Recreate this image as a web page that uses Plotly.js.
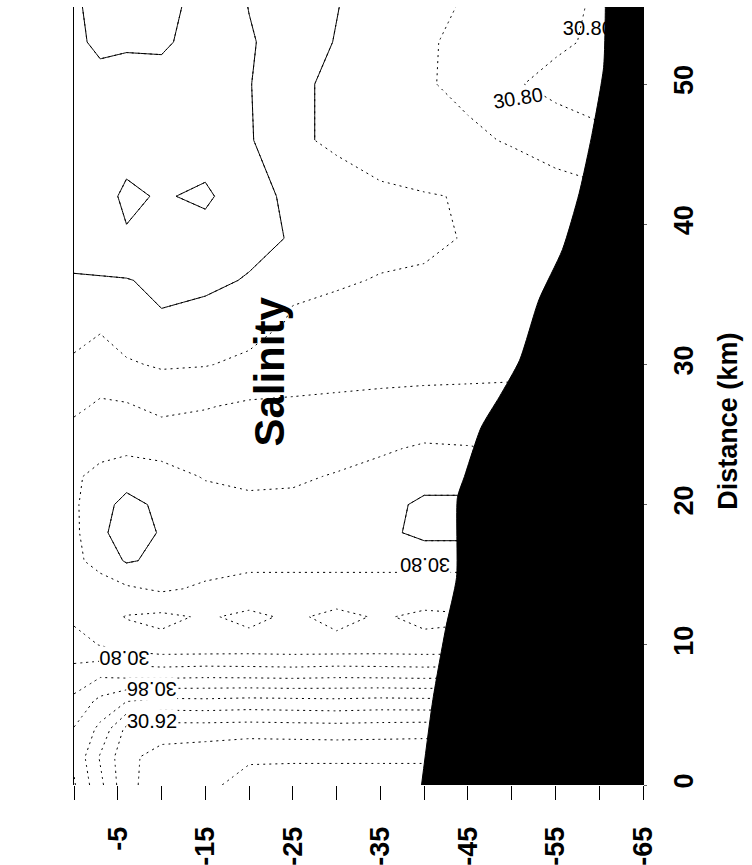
<!DOCTYPE html>
<html>
<head>
<meta charset="utf-8">
<script src="https://cdn.plot.ly/plotly-3.0.1.min.js"></script>
<style>
  html, body { margin: 0; padding: 0; background: #fff; }
  #chart { width: 752px; height: 865px; }
</style>
</head>
<body>
<div id="chart"></div>
<script>
// Cross-shelf salinity section: depth (m) runs left to right, distance offshore (km) runs upward.
const depthM = [0, -3, -6, -10, -15, -20, -25, -30, -35, -40, -45, -50, -55, -60, -65];
const distanceKm = [0, 2, 4, 6, 8, 10, 12, 14, 16, 18, 20, 22, 24, 27, 30, 33, 36, 39, 42, 46, 50, 53, 56];

// Salinity along each distance row, one value per depth in depthM
const row0km  = [30.858, 30.895, 30.935, 30.950, 30.955, 30.968, 30.970, 30.970, 30.970, 30.970, 30.970, 30.970, 30.970, 30.970, 30.970];
const row2km  = [30.864, 30.902, 30.935, 30.948, 30.952, 30.957, 30.957, 30.957, 30.957, 30.957, 30.957, 30.957, 30.957, 30.957, 30.957];
const row4km  = [30.861, 30.885, 30.925, 30.930, 30.930, 30.931, 30.930, 30.929, 30.930, 30.931, 30.930, 30.930, 30.930, 30.930, 30.930];
const row6km  = [30.845, 30.865, 30.879, 30.885, 30.884, 30.886, 30.885, 30.884, 30.886, 30.885, 30.885, 30.885, 30.885, 30.885, 30.885];
const row8km  = [30.825, 30.835, 30.831, 30.829, 30.831, 30.830, 30.829, 30.831, 30.830, 30.829, 30.830, 30.830, 30.830, 30.830, 30.830];
const row10km = [30.810, 30.799, 30.790, 30.785, 30.785, 30.786, 30.785, 30.785, 30.786, 30.785, 30.785, 30.785, 30.785, 30.785, 30.785];
const row12km = [30.795, 30.788, 30.779, 30.776, 30.782, 30.776, 30.783, 30.775, 30.782, 30.776, 30.778, 30.778, 30.778, 30.778, 30.778];
const row14km = [30.790, 30.790, 30.797, 30.803, 30.797, 30.793, 30.793, 30.793, 30.793, 30.793, 30.793, 30.793, 30.793, 30.793, 30.793];
const row16km = [30.795, 30.808, 30.822, 30.816, 30.808, 30.805, 30.805, 30.805, 30.805, 30.805, 30.805, 30.805, 30.805, 30.805, 30.805];
const row18km = [30.796, 30.815, 30.832, 30.818, 30.810, 30.806, 30.806, 30.808, 30.814, 30.826, 30.826, 30.822, 30.822, 30.822, 30.822];
const row20km = [30.797, 30.813, 30.826, 30.816, 30.806, 30.803, 30.803, 30.806, 30.813, 30.824, 30.824, 30.821, 30.821, 30.821, 30.821];
const row22km = [30.797, 30.806, 30.812, 30.806, 30.799, 30.797, 30.798, 30.801, 30.805, 30.812, 30.812, 30.811, 30.811, 30.811, 30.811];
const row24km = [30.792, 30.794, 30.796, 30.795, 30.792, 30.790, 30.792, 30.795, 30.798, 30.802, 30.801, 30.799, 30.799, 30.799, 30.799];
const row27km = [30.776, 30.783, 30.782, 30.775, 30.779, 30.783, 30.784, 30.785, 30.786, 30.787, 30.787, 30.787, 30.787, 30.787, 30.787];
const row30km = [30.763, 30.768, 30.762, 30.758, 30.759, 30.764, 30.767, 30.770, 30.772, 30.773, 30.774, 30.775, 30.775, 30.775, 30.775];
const row33km = [30.752, 30.757, 30.750, 30.742, 30.745, 30.752, 30.762, 30.766, 30.768, 30.769, 30.770, 30.771, 30.772, 30.772, 30.772];
const row36km = [30.741, 30.741, 30.741, 30.736, 30.737, 30.741, 30.757, 30.758, 30.761, 30.762, 30.764, 30.766, 30.768, 30.768, 30.768];
const row39km = [30.735, 30.732, 30.722, 30.721, 30.729, 30.736, 30.741, 30.750, 30.755, 30.757, 30.761, 30.764, 30.767, 30.770, 30.770];
const row42km = [30.733, 30.728, 30.716, 30.722, 30.716, 30.735, 30.743, 30.752, 30.757, 30.759, 30.761, 30.765, 30.770, 30.775, 30.775];
const row46km = [30.730, 30.726, 30.729, 30.731, 30.732, 30.738, 30.757, 30.763, 30.768, 30.772, 30.776, 30.782, 30.790, 30.795, 30.795];
const row50km = [30.728, 30.726, 30.726, 30.727, 30.733, 30.739, 30.756, 30.764, 30.770, 30.778, 30.785, 30.798, 30.805, 30.810, 30.810];
const row53km = [30.724, 30.716, 30.718, 30.717, 30.728, 30.738, 30.750, 30.761, 30.770, 30.778, 30.784, 30.790, 30.797, 30.803, 30.805];
const row56km = [30.722, 30.715, 30.714, 30.716, 30.724, 30.741, 30.754, 30.759, 30.770, 30.776, 30.781, 30.788, 30.795, 30.802, 30.805];

const salinity = [row0km, row2km, row4km, row6km, row8km, row10km, row12km, row14km, row16km,
  row18km, row20km, row22km, row24km, row27km, row30km, row33km, row36km, row39km, row42km,
  row46km, row50km, row53km, row56km];

// Isohaline levels: every 0.02 dotted; a few drawn as continuous lines over part of the section
const levelStart = 30.70, levelEnd = 30.98, levelStep = 0.02;
const solidLevelsLow = [30.72, 30.74];
const solidLevelOuter = 30.76;   // continuous beyond outerFromKm
const outerFromKm = 46;
const solidLevelCore = 30.82;    // continuous beyond coreFromKm
const coreFromKm = 14;

// Sea floor profile
const seabedDistKm = [0, 6.1, 11.3, 14.8, 20.5, 22.0, 25.5, 27.7, 30.3, 34.6, 38.2, 42.2, 46.5, 51.2, 55.4, 56];
const seabedDepthM = [-39.7, -41.0, -42.5, -43.7, -43.8, -44.6, -46.5, -48.6, -50.9, -53.1, -55.8, -57.7, -59.2, -60.5, -60.7, -60.7];

// Axis extents and ticks
const depthRange = [0, -65];
const distRange = [0, 55.5];
const depthTickVals = [0, -5, -10, -15, -20, -25, -30, -35, -40, -45, -50, -55, -60, -65];
const depthTickText = ['', '-5', '', '-15', '', '-25', '', '-35', '', '-45', '', '-55', '', '-65'];
const distTickVals = [0, 10, 20, 30, 40, 50];

// Isohaline labels
const labelText  = ['30.80', '30.86', '30.92', '30.80', '30.80'];
const labelDepth = [-5.8, -8.9, -8.9, -40.1, -50.7];
const labelDist  = [9.1, 6.85, 4.6, 15.7, 49.0];
const labelAngle = [180, 180, 0, 180, -9];
// label partly hidden behind the sea floor
const edgeLabelText = ['30.80'];
const edgeLabelDepth = [-58.7];
const edgeLabelDist = [53.85];

const FONT = 'Liberation Sans, Arial, Helvetica, sans-serif';

function isohalines(fromKm, start, end, dash) {
  const first = distanceKm.findIndex(d => d >= fromKm);
  return {
    type: 'contour',
    x: depthM,
    y: distanceKm.slice(first),
    z: salinity.slice(first),
    autocontour: false,
    contours: { coloring: 'none', start: start, end: end, size: levelStep },
    line: { color: '#000', width: 1, dash: dash, smoothing: 0 },
    showscale: false,
    hoverinfo: 'skip'
  };
}

const allLevels = isohalines(0, levelStart, levelEnd, '2px,4px');
const solidLow = isohalines(0, solidLevelsLow[0], solidLevelsLow[1], 'solid');
const solidOuter = isohalines(outerFromKm, solidLevelOuter, solidLevelOuter, 'solid');
const solidCore = isohalines(coreFromKm, solidLevelCore, solidLevelCore, 'solid');

const edgeLabel = {
  type: 'scatter',
  mode: 'text',
  x: edgeLabelDepth,
  y: edgeLabelDist,
  text: edgeLabelText,
  textfont: { family: FONT, size: 20, color: '#000' },
  cliponaxis: true,
  hoverinfo: 'skip'
};

const seabed = {
  type: 'scatter',
  mode: 'lines',
  x: seabedDepthM.concat([depthRange[1], depthRange[1]]),
  y: seabedDistKm.concat([seabedDistKm[seabedDistKm.length - 1], 0]),
  fill: 'toself',
  fillcolor: '#000',
  line: { color: '#000', width: 1, shape: 'spline', smoothing: 0.6 },
  hoverinfo: 'skip'
};

const annotations = labelText.map((t, i) => ({
  xref: 'x', yref: 'y',
  x: labelDepth[i], y: labelDist[i],
  text: t,
  textangle: labelAngle[i],
  showarrow: false,
  bgcolor: '#fff',
  borderpad: 0,
  font: { family: FONT, size: 20, color: '#000' }
}));

annotations.push({
  xref: 'paper', yref: 'paper', x: 0.344, y: 0.531,
  text: 'Salinity', textangle: -90, showarrow: false,
  xanchor: 'center', yanchor: 'middle',
  font: { family: FONT, size: 42, weight: 'bold', color: '#000' }
});
annotations.push({
  xref: 'paper', yref: 'paper', x: 1.149, y: 0.468,
  text: 'Distance (km)', textangle: -90, showarrow: false,
  xanchor: 'center', yanchor: 'middle',
  font: { family: FONT, size: 27, weight: 'bold', color: '#000' }
});

const tickFont = { family: FONT, size: 27, weight: 'bold', color: '#000' };

const layout = {
  width: 752,
  height: 865,
  margin: { l: 74, r: 109, t: 7, b: 80 },
  paper_bgcolor: '#fff',
  plot_bgcolor: '#fff',
  showlegend: false,
  xaxis: {
    range: depthRange,
    tickmode: 'array',
    tickvals: depthTickVals,
    ticktext: depthTickText,
    ticks: 'outside', ticklen: 14, tickwidth: 1, tickcolor: '#000',
    tickangle: -90,
    tickfont: tickFont,
    ticklabelstandoff: 16,
    showgrid: false, zeroline: false, showline: false
  },
  yaxis: {
    range: distRange,
    side: 'right',
    tickmode: 'array',
    tickvals: distTickVals,
    ticks: 'outside', ticklen: 3, tickwidth: 1, tickcolor: '#666',
    tickangle: -90,
    tickfont: tickFont,
    ticklabelstandoff: 14,
    showgrid: false, zeroline: false,
    showline: true, mirror: true, linecolor: '#000', linewidth: 1
  },
  annotations: annotations
};

Plotly.newPlot('chart', [allLevels, solidLow, solidOuter, solidCore, edgeLabel, seabed], layout,
  { staticPlot: true, displayModeBar: false });
</script>
</body>
</html>
